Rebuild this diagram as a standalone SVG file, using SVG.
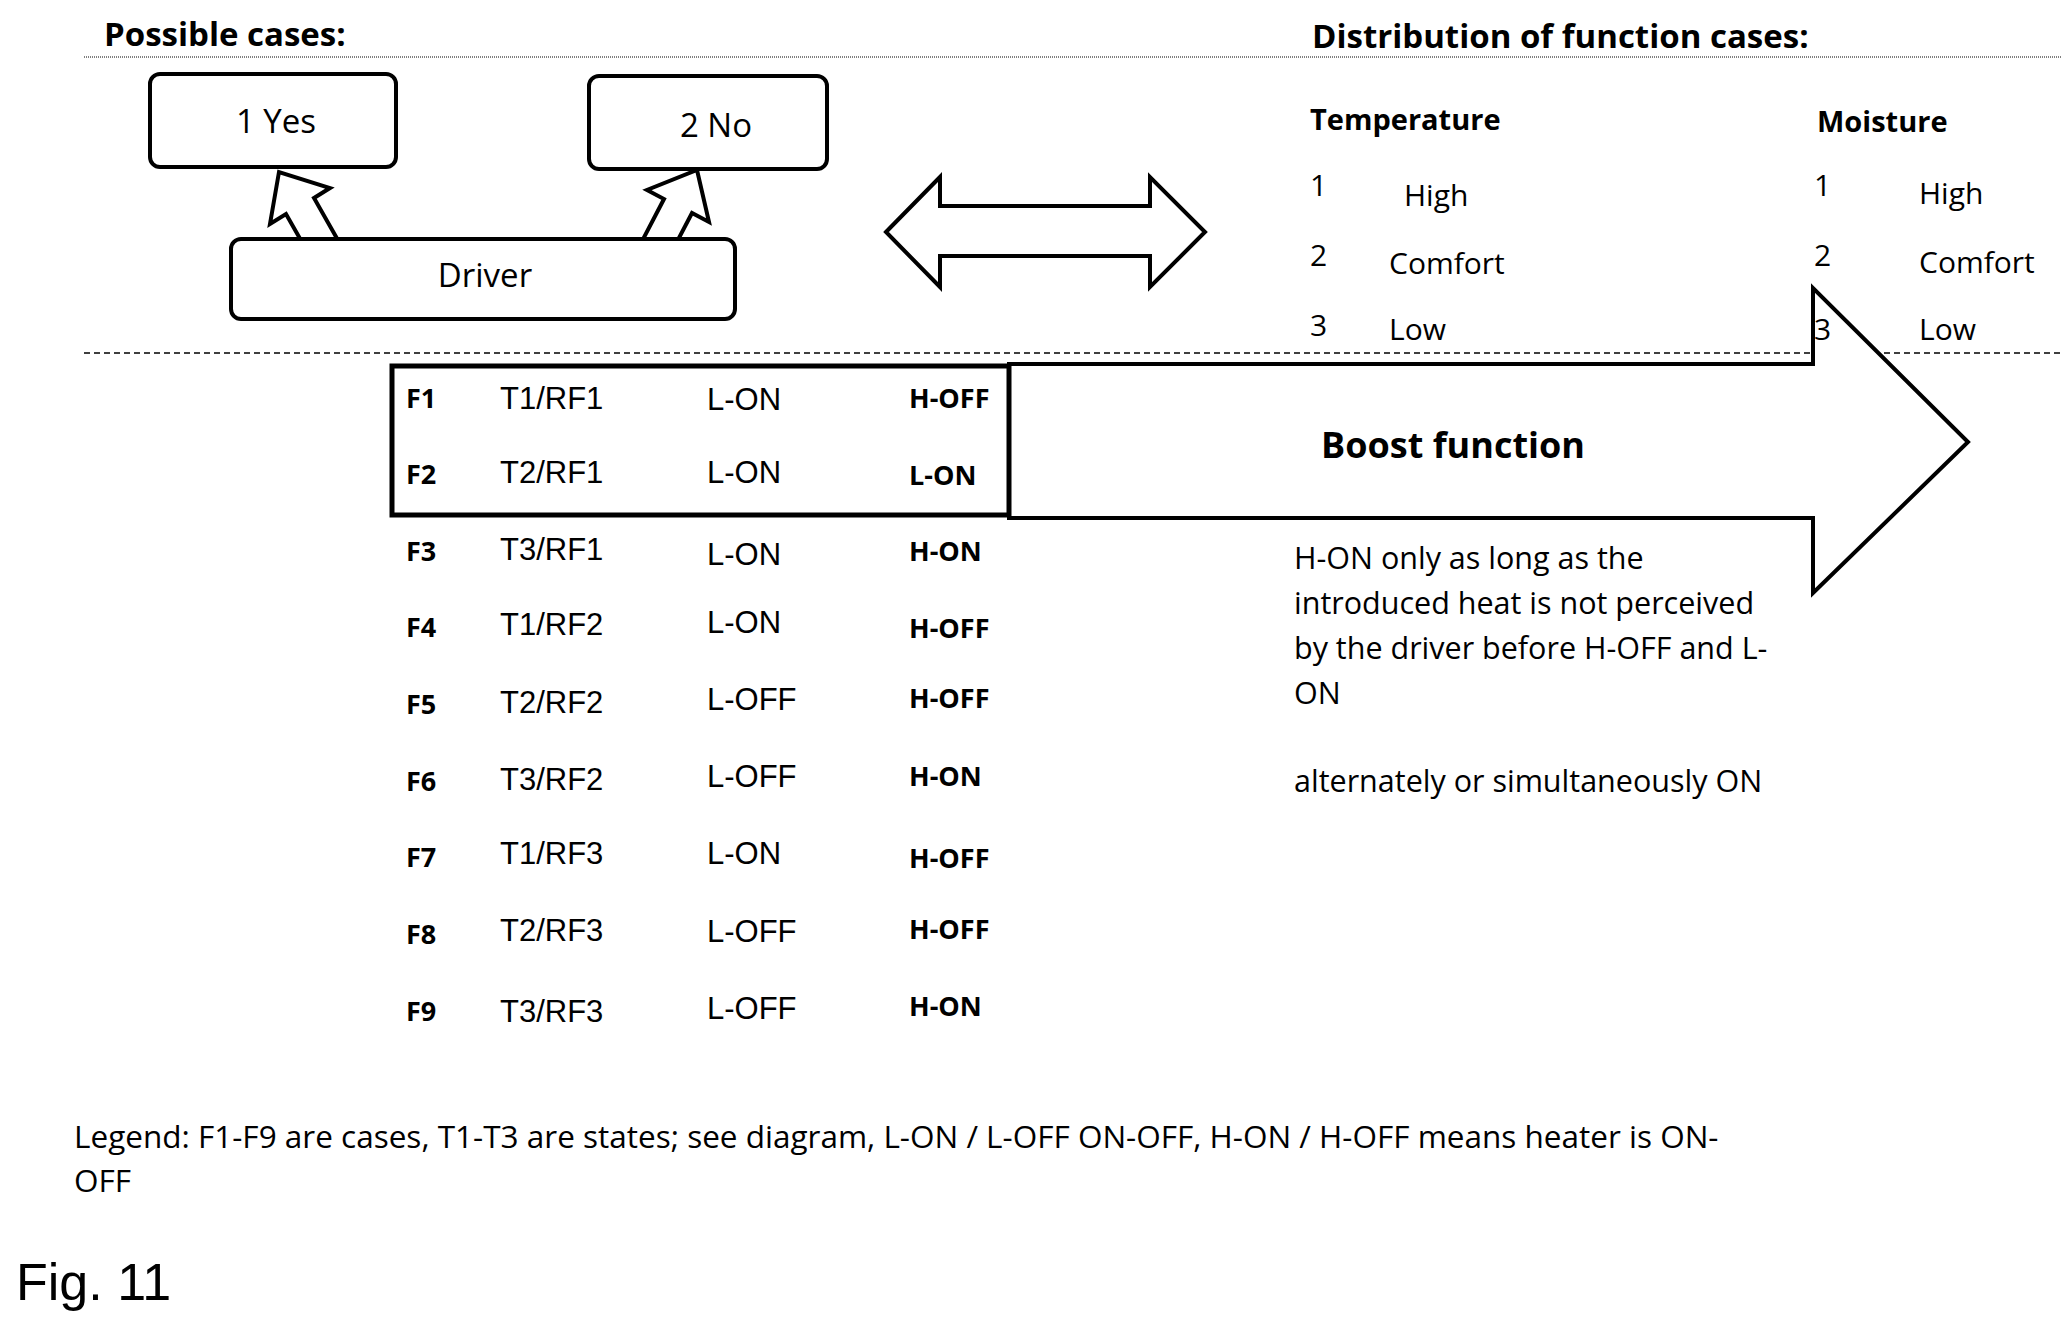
<svg xmlns="http://www.w3.org/2000/svg" width="2072" height="1329" viewBox="0 0 2072 1329">
<style>
.c{font-family:"Open Sans","Noto Sans",sans-serif;fill:#000}
.a{font-family:"Liberation Sans",Arial,sans-serif;fill:#000}
.b{font-weight:bold}
.box{fill:#fff;stroke:#000;stroke-width:4}
.ol{fill:#fff;stroke:#000;stroke-width:4;stroke-linejoin:miter}
</style>
<rect width="2072" height="1329" fill="#fff"/>
<g id="rules">
<line x1="84" y1="57" x2="2061" y2="57" stroke="#000" stroke-width="1" stroke-dasharray="1 1"/>
<line x1="84" y1="353" x2="2061" y2="353" stroke="#000" stroke-width="1.5" stroke-dasharray="6 4"/>
</g>
<text class="c b" x="104" y="46" font-size="33">Possible cases:</text>
<text class="c b" x="1312" y="48" font-size="33">Distribution of function cases:</text>
<g id="connectors">
<polygon class="ol" points="339,242 314,198 330,188 279,172 270,224 286,214 311,258"/>
<polygon class="ol" points="669,257 692,213 709,222 697,170 647,190 664,199 641,243"/>
<polygon id="dbl" class="ol" points="886,232 940,177 940,206 1150,206 1150,177 1205,232 1150,287 1150,256 940,256 940,287"/>
<polygon id="boost" class="ol" points="1009,364 1813,364 1813,288 1968,442 1813,593 1813,518 1009,518"/>
</g>
<g id="yes"><rect class="box" x="150" y="74" width="246" height="93" rx="10"/><text class="c" x="276" y="133" font-size="33" text-anchor="middle">1 Yes</text></g>
<g id="no"><rect class="box" x="589" y="76" width="238" height="93" rx="10"/><text class="c" x="716" y="137" font-size="33" text-anchor="middle">2 No</text></g>
<g id="driver"><rect class="box" x="231" y="239" width="504" height="80" rx="10"/><text class="c" x="485" y="287" font-size="33" text-anchor="middle">Driver</text></g>
<g id="dist" class="c" font-size="30">
<text class="b" x="1310" y="130" font-size="29">Temperature</text>
<text x="1310" y="196">1</text><text x="1404" y="206">High</text>
<text x="1310" y="266">2</text><text x="1389" y="274">Comfort</text>
<text x="1310" y="336">3</text><text x="1389" y="340">Low</text>
<text class="b" x="1817" y="132" font-size="29">Moisture</text>
<text x="1814" y="196">1</text><text x="1919" y="204">High</text>
<text x="1814" y="266">2</text><text x="1919" y="273">Comfort</text>
<text x="1814" y="340">3</text><text x="1919" y="340">Low</text>
</g>
<g id="table">
<rect x="392" y="366" width="617" height="149" fill="none" stroke="#000" stroke-width="5"/>
<g class="c b" font-size="27">
<text x="406" y="408">F1</text><text x="406" y="484">F2</text><text x="406" y="561">F3</text><text x="406" y="637">F4</text><text x="406" y="714">F5</text><text x="406" y="791">F6</text><text x="406" y="867">F7</text><text x="406" y="944">F8</text><text x="406" y="1021">F9</text>
<text x="909" y="408">H-OFF</text><text x="909" y="485">L-ON</text><text x="909" y="561">H-ON</text><text x="909" y="638">H-OFF</text><text x="909" y="708">H-OFF</text><text x="909" y="786">H-ON</text><text x="909" y="868">H-OFF</text><text x="909" y="939">H-OFF</text><text x="909" y="1016">H-ON</text>
</g>
<g class="a" font-size="31">
<text x="500" y="409">T1/RF1</text><text x="500" y="483">T2/RF1</text><text x="500" y="560">T3/RF1</text><text x="500" y="635">T1/RF2</text><text x="500" y="713">T2/RF2</text><text x="500" y="790">T3/RF2</text><text x="500" y="864">T1/RF3</text><text x="500" y="941">T2/RF3</text><text x="500" y="1022">T3/RF3</text>
<text x="707" y="410">L-ON</text><text x="707" y="483">L-ON</text><text x="707" y="565">L-ON</text><text x="707" y="633">L-ON</text><text x="707" y="710">L-OFF</text><text x="707" y="787">L-OFF</text><text x="707" y="864">L-ON</text><text x="707" y="942">L-OFF</text><text x="707" y="1019">L-OFF</text>
</g>
</g>
<text class="c b" x="1321" y="458" font-size="36">Boost function</text>
<g class="c" font-size="30.5">
<text x="1294" y="569">H-ON only as long as the</text>
<text x="1294" y="614">introduced heat is not perceived</text>
<text x="1294" y="659">by the driver before H-OFF and L-</text>
<text x="1294" y="704">ON</text>
<text x="1294" y="792">alternately or simultaneously ON</text>
<text x="74" y="1148" font-size="31.5">Legend: F1-F9 are cases, T1-T3 are states; see diagram, L-ON / L-OFF ON-OFF, H-ON / H-OFF means heater is ON-</text>
<text x="74" y="1192" font-size="31.5">OFF</text>
</g>
<text class="a" x="16" y="1300" font-size="52">Fig. 11</text>
</svg>
